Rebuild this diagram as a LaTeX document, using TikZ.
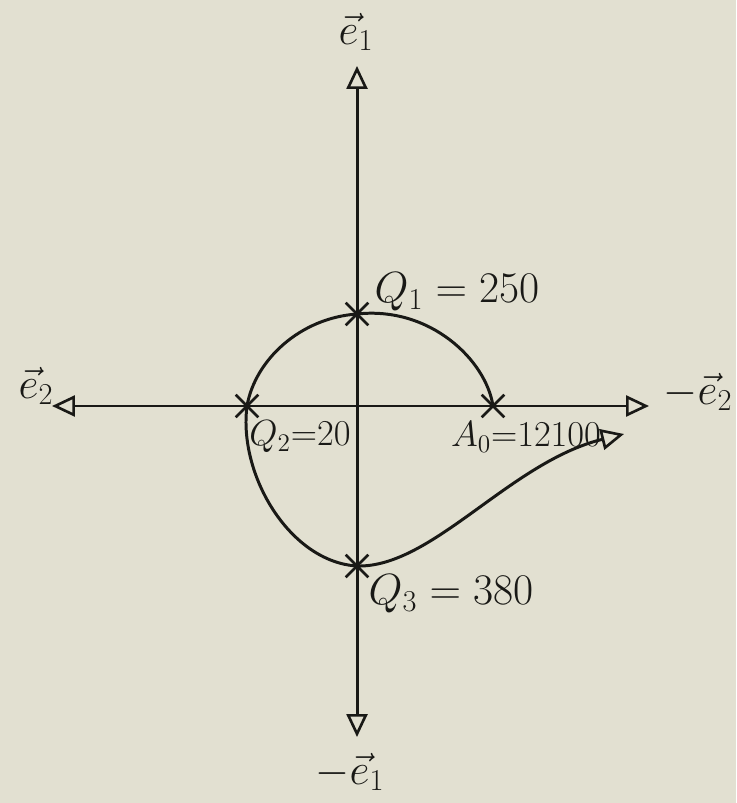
\documentclass[tikz,border=0pt]{standalone}
\usetikzlibrary{arrows.meta,shapes.misc}
\definecolor{paper}{RGB}{226,224,209}
\definecolor{ink}{RGB}{25,25,22}
\begin{document}
\begin{tikzpicture}[x=0.02cm,y=-0.02cm,
  ink line/.style={draw=ink,line width=1.7pt,line cap=round},
  tipstyle/.style={-{Triangle[open,length=0.46cm,width=0.42cm,line width=1.5pt]}},
  axis/.style={ink line,tipstyle},
  pt/.style={cross out,draw=ink,line width=1.5pt,minimum size=0.4cm,inner sep=0pt},
  lbl/.style={text=ink,font=\fontsize{24}{28}\selectfont,inner sep=1pt},
  slbl/.style={text=ink,font=\fontsize{21}{25}\selectfont,inner sep=1pt}]
\fill[paper] (0,0) rectangle (736,803);
\useasboundingbox (0,0) rectangle (736,803);
\coordinate (O) at (357,406);
\coordinate (top) at (357,66);
\coordinate (bot) at (357,737);
\coordinate (lft) at (52,406);
\coordinate (rgt) at (649,406);
\coordinate (tip) at (624,434);
\draw[axis] (O) -- (top);
\draw[axis] (O) -- (bot);
\draw[axis] (O) -- (lft);
\draw[axis] (O) -- (rgt);
\node[pt] (Q1) at (357,314) {};
\node[pt] (Q2) at (247,406) {};
\node[pt] (A0) at (493,406) {};
\node[pt] (Q3) at (357,566) {};
\draw[ink line] (Q1.center) .. controls (430,306) and (486,360) .. (A0.center);
\draw[ink line] (Q1.center) .. controls (300,318) and (255,360) .. (Q2.center);
\draw[ink line,tipstyle] (Q2.center) .. controls (238,475) and (290,562) .. (Q3.center) .. controls (432,568) and (510,462) .. (tip);
\node[lbl] (le1) at (356,32) {$\vec{e}_1$};
\node[lbl] (le2) at (36,386) {$\vec{e}_2$};
\node[lbl] (lme2) at (698,392) {$-\vec{e}_2$};
\node[lbl] (lme1) at (350,772) {$-\vec{e}_1$};
\node[lbl] (lQ1) at (457,292) {$Q_1 = 250$};
\node[slbl] (lQ2) at (300,437) {$Q_2{=}20$};
\node[slbl] (lA0) at (526,437) {$A_0{=}12100$};
\node[lbl] (lQ3) at (451,594) {$Q_3 = 380$};
\end{tikzpicture}
\end{document}
